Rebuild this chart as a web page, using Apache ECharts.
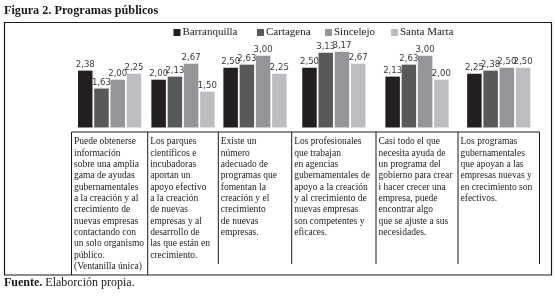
<!DOCTYPE html>
<html>
<head>
<meta charset="utf-8">
<script src="https://cdn.jsdelivr.net/npm/echarts@6/dist/echarts.min.js"></script>
<style>
  html, body { margin: 0; padding: 0; background: #fff; }
  #chart-panel { width: 555px; height: 303px; }
</style>
</head>
<body>
<div id="chart-panel"></div>
<script>
// ciudades y valores por pregunta
var cities = ['Barranquilla', 'Cartagena', 'Sincelejo', 'Santa Marta'];
var barranquilla = [2.38, 2.00, 2.50, 2.50, 2.13, 2.25];
var cartagena = [1.63, 2.13, 2.63, 3.13, 2.63, 2.38];
var sincelejo = [2.00, 2.67, 3.00, 3.17, 3.00, 2.50];
var santaMarta = [2.25, 1.50, 2.25, 2.67, 2.00, 2.50];
var values = [barranquilla, cartagena, sincelejo, santaMarta];

// textos de la tabla (una categoria por columna)
var categories = [
    'Puede obtenerse\ninformación\nsobre una amplia\ngama de ayudas\ngubernamentales\na la creación y al\ncrecimiento de\nnuevas empresas\ncontactando con\nun solo organismo\npúblico.\n(Ventanilla única)',
    'Los parques\ncientíficos e\nincubadoras\naportan un\napoyo efectivo\na la creación\nde nuevas\nempresas y al\ndesarrollo de\nlas que están en\ncrecimiento.',
    'Existe un\nnúmero\nadecuado de\nprogramas que\nfomentan la\ncreación y el\ncrecimiento\nde nuevas\nempresas.',
    'Los profesionales\nque trabajan\nen agencias\ngubernamentales de\napoyo a la creación\ny al crecimiento de\nnuevas empresas\nson competentes y\neficaces.',
    'Casi todo el que\nnecesita ayuda de\nun programa del\ngobierno para crear\ni hacer crecer una\nempresa, puede\nencontrar algo\nque se ajuste a sus\nnecesidades.',
    'Los programas\ngubernamentales\nque apoyan a las\nempresas nuevas y\nen crecimiento son\nefectivos.'
];

var colors = ['#231f20', '#58595b', '#939598', '#bcbdc0'];
var colX = [71.5, 147.7, 218.3, 291.7, 376, 458, 539.5]; // bordes de columnas de la tabla
var legendX = [173.5, 257, 325, 391];
var serif = "'Liberation Serif', 'Times New Roman', serif";

var chart = echarts.init(document.getElementById('chart-panel'));

var grids = [], xAxes = [], yAxes = [], series = [], graphics = [];
for (var i = 0; i < categories.length; i++) {
    grids.push({left: colX[i], width: colX[i + 1] - colX[i], top: 31.9, bottom: 175.5});
    xAxes.push({type: 'category', gridIndex: i, data: [categories[i]], show: false});
    yAxes.push({type: 'value', gridIndex: i, min: 0, max: 4, show: false});
    for (var c = 0; c < cities.length; c++) {
        series.push({
            type: 'bar',
            name: cities[c],
            xAxisIndex: i,
            yAxisIndex: i,
            barWidth: 14.5,
            barGap: '12%',
            itemStyle: {color: colors[c]},
            label: {
                show: true,
                position: 'top',
                distance: 1,
                color: '#3a3a3a',
                fontSize: 9.5,
                fontFamily: "'Liberation Sans Narrow', 'DejaVu Sans Condensed', sans-serif",
                formatter: function (p) { return p.value.toFixed(2).replace('.', ','); }
            },
            data: [values[c][i]]
        });
    }
    // texto de la celda
    graphics.push({
        type: 'text',
        left: colX[i] + 2.5,
        top: 136,
        style: {
            text: categories[i],
            font: '9.5px ' + serif,
            fill: '#1a1a1a',
            lineHeight: 11.35
        }
    });
}

// marco exterior y lineas de la tabla
graphics.push({type: 'rect', shape: {x: 4.5, y: 22.5, width: 547, height: 252.5},
    style: {fill: 'none', stroke: '#1a1a1a', lineWidth: 1.2}});
graphics.push({type: 'line', shape: {x1: colX[0], y1: 132, x2: colX[6], y2: 132},
    style: {stroke: '#1a1a1a', lineWidth: 1}});
for (var k = 0; k < colX.length; k++) {
    graphics.push({type: 'line',
        shape: {x1: colX[k], y1: 132, x2: colX[k], y2: k < 2 ? 275 : 264},
        style: {stroke: '#1a1a1a', lineWidth: 1}});
}

var option = {
    animation: false,
    title: [{
        text: 'Figura 2. Programas públicos',
        left: 4, top: 5, padding: 0,
        textStyle: {fontFamily: serif, fontWeight: 'bold', fontSize: 12.2, color: '#1a1a1a'}
    }, {
        text: '{b|Fuente.} Elaborción propia.',
        left: 4, top: 277, padding: 0,
        textStyle: {fontFamily: serif, fontSize: 12, fontWeight: 'normal', color: '#1a1a1a',
            rich: {b: {fontFamily: serif, fontSize: 12, fontWeight: 'bold', color: '#1a1a1a'}}}
    }],
    legend: cities.map(function (name, c) {
        return {
            data: [name],
            left: legendX[c],
            top: 27,
            padding: 0,
            icon: 'rect',
            itemWidth: 7,
            itemHeight: 7,
            textStyle: {fontFamily: serif, fontSize: 11, color: '#1a1a1a', padding: [0, 0, 0, -3]}
        };
    }),
    grid: grids,
    xAxis: xAxes,
    yAxis: yAxes,
    series: series,
    graphic: graphics
};
chart.setOption(option);
</script>
</body>
</html>
